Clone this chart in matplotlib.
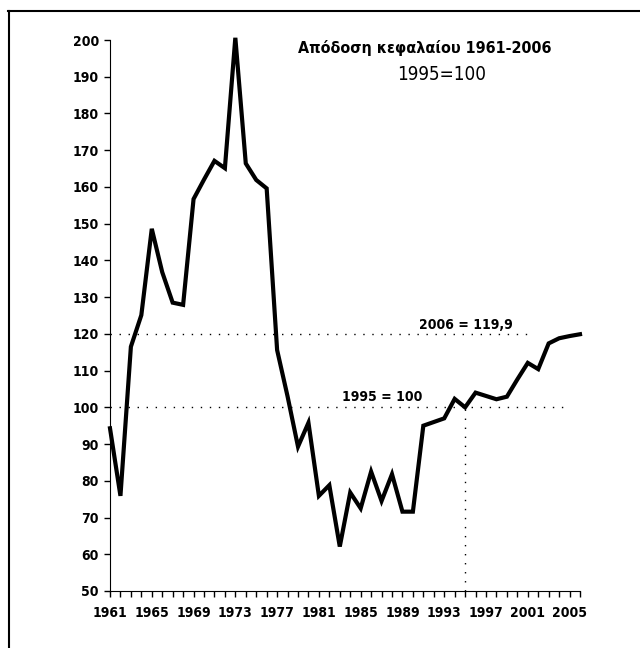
import matplotlib
matplotlib.use('Agg')
import matplotlib.pyplot as plt
from matplotlib.lines import Line2D

years = list(range(1961, 2007))
values = [94.3, 75.9, 116.5, 125.1, 148.6, 136.8, 128.5, 127.9, 156.7, 162.0,
          167.1, 165.1, 200.6, 166.4, 161.9, 159.6, 115.6, 103.0, 89.3, 95.8,
          75.9, 78.8, 62.1, 76.8, 72.5, 82.5, 74.5, 81.8, 71.6, 71.6,
          95.0, 96.0, 97.0, 102.3, 100.0, 104.0, 103.1, 102.2, 102.9, 107.6,
          112.1, 110.4, 117.4, 118.8, 119.4, 119.9]
label_years = list(range(1961, 2006, 4))
y_ticks = list(range(50, 201, 10))

fam = ['DejaVu Sans']
st = 'condensed'

fig = plt.figure(figsize=(6.4, 6.48), dpi=100)
ax = fig.add_axes([110 / 640, 1 - 591 / 648, 470 / 640, 551 / 648])

# dotted reference lines
ax.plot([1961, 2001.5], [120, 120], color='black', lw=1, linestyle=(0, (1, 5.5)))
ax.plot([1961, 2005], [100, 100], color='black', lw=1, linestyle=(0, (1, 5.5)))
ax.plot([1995, 1995], [50, 100], color='black', lw=1, linestyle=(0, (1, 5.5)))

ax.plot(years, values, color='black', lw=3, solid_joinstyle='miter', clip_on=False)

ax.text(1995.1, 120.5, '2006 = 119,9', ha='center', va='bottom', fontsize=10,
        fontweight='bold', family=fam, fontstretch=st)
ax.text(1987.05, 101.0, '1995 = 100', ha='center', va='bottom', fontsize=10,
        fontweight='bold', family=fam, fontstretch=st)

ax.set_xlim(1961, 2006)
ax.set_ylim(50, 200)
ax.set_xticks(label_years)
ax.set_xticks(years, minor=True)
ax.set_yticks(y_ticks)
for sp in ['top', 'right']:
    ax.spines[sp].set_visible(False)
ax.tick_params(axis='both', which='both', length=4, width=1, color='black')
ax.tick_params(axis='x', which='both', pad=7)
ax.tick_params(axis='y', pad=4)
for lab in ax.get_xticklabels() + ax.get_yticklabels():
    lab.set_fontfamily(fam)
    lab.set_fontweight('bold')
    lab.set_fontstretch(st)
    lab.set_fontsize(10)

fig.text(425 / 640, 1 - 48 / 648, 'Απόδοση κεφαλαίου 1961-2006', ha='center', va='center',
         fontsize=11.5, fontweight='bold', family=fam, fontstretch=st)
fig.text(442 / 640, 1 - 75 / 648, '1995=100', ha='center', va='center',
         fontsize=13.5, family=fam, fontstretch=st)

# frame (left and top edges)
fig.add_artist(Line2D([8.5 / 640, 8.5 / 640], [0, 1 - 10.5 / 648], color='black', lw=1.5,
                      transform=fig.transFigure))
fig.add_artist(Line2D([8 / 640, 1], [1 - 10.5 / 648, 1 - 10.5 / 648], color='black', lw=1.5,
                      transform=fig.transFigure))

fig.savefig('out.png', dpi=100)
